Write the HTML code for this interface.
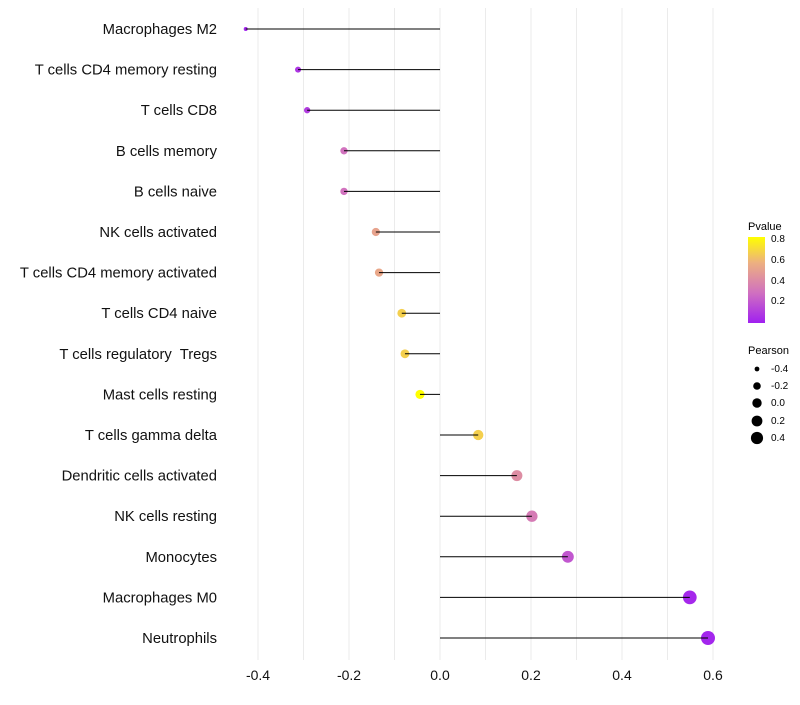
<!DOCTYPE html>
<html><head><meta charset="utf-8"><style>
body{margin:0;background:#fff;font-family:"Liberation Sans",sans-serif}
</style></head><body>
<svg id="chart" width="800" height="700" xmlns="http://www.w3.org/2000/svg">
<defs><linearGradient id="pg" x1="0" y1="1" x2="0" y2="0">
<stop offset="0" stop-color="#A020F0"/><stop offset="0.35" stop-color="#D070C0"/><stop offset="0.7" stop-color="#EDB080"/><stop offset="1" stop-color="#FFFF00"/></linearGradient></defs>
<g id="grid"></g><g id="points"></g><g id="marks"></g><g id="labels"></g>
<g font-size="10">
<text x="748" y="230" font-size="11">Pvalue</text>
<rect x="748" y="237" width="17" height="86" fill="url(#pg)"/>
<text x="771" y="242">0.8</text>
<text x="771" y="263">0.6</text>
<text x="771" y="284">0.4</text>
<text x="771" y="304">0.2</text>
</g>
<g font-size="10">
<text x="748" y="354" font-size="11">Pearson</text>
<circle cx="757" cy="369" r="2.4"/><text x="771" y="372">-0.4</text>
<circle cx="757" cy="386" r="3.8"/><text x="771" y="389">-0.2</text>
<circle cx="757" cy="403" r="4.7"/><text x="771" y="406">0.0</text>
<circle cx="757" cy="421" r="5.4"/><text x="771" y="424">0.2</text>
<circle cx="757" cy="438" r="6.1"/><text x="771" y="441">0.4</text>
</g>
</svg>
<script>
const cells=["Macrophages M2","T cells CD4 memory resting","T cells CD8","B cells memory","B cells naive","NK cells activated","T cells CD4 memory activated","T cells CD4 naive","T cells regulatory  Tregs","Mast cells resting","T cells gamma delta","Dendritic cells activated","NK cells resting","Monocytes","Macrophages M0","Neutrophils"];
const pearson=[-0.427,-0.312,-0.292,-0.211,-0.211,-0.141,-0.134,-0.084,-0.077,-0.044,0.084,0.169,0.202,0.281,0.549,0.589];
const pvalues=[0.02,0.08,0.1,0.3,0.3,0.52,0.54,0.68,0.68,0.85,0.68,0.42,0.34,0.2,0.03,0.02];
const xTicks=[-0.4,-0.2,0,0.2,0.4,0.6];
const xTickLabels=["-0.4","-0.2","0.0","0.2","0.4","0.6"];
const ns="http://www.w3.org/2000/svg";
const X=v=>440+v*455;
const Y=i=>29+i*40.6;
const pMin=Math.min(...pearson);
const R=v=>Math.sqrt(4+44.3*(v-pMin));
function col(p){const t=Math.max(0,Math.min(1,p/0.83));
const st=[[0,[160,32,240]],[0.35,[208,112,192]],[0.7,[237,176,128]],[1,[255,255,0]]];
for(let k=1;k<st.length;k++){if(t<=st[k][0]){const a=st[k-1],b=st[k],f=(t-a[0])/(b[0]-a[0]);
return `rgb(${a[1].map((c,j)=>Math.round(c+(b[1][j]-c)*f)).join(",")})`;}}return "rgb(255,255,0)";}
function mk(tag,at,parent){const e=document.createElementNS(ns,tag);for(const k in at)e.setAttribute(k,at[k]);document.getElementById(parent).appendChild(e);return e;}
for(let v=-0.4;v<=0.61;v+=0.1){const g=mk("line",{x1:X(v),x2:X(v),y1:8,y2:660,stroke:"#ebebeb","stroke-width":1},"grid");

}
xTicks.forEach((v,i)=>{const t=mk("text",{x:X(v),y:680,"text-anchor":"middle","font-size":14,fill:"#111"},"labels");t.textContent=xTickLabels[i];

});
cells.forEach((c,i)=>{
const p=mk("circle",{cx:X(pearson[i]),cy:Y(i),r:R(pearson[i]),fill:col(pvalues[i])},"points");


const l=mk("line",{x1:X(0),x2:X(pearson[i]),y1:Y(i),y2:Y(i),stroke:"#000","stroke-width":1},"marks");


const t=mk("text",{x:217,y:Y(i)+5,"text-anchor":"end","font-size":14.8,fill:"#111"},"labels");t.textContent=c;


t.style.whiteSpace='pre';
});
</script>
</body></html>
